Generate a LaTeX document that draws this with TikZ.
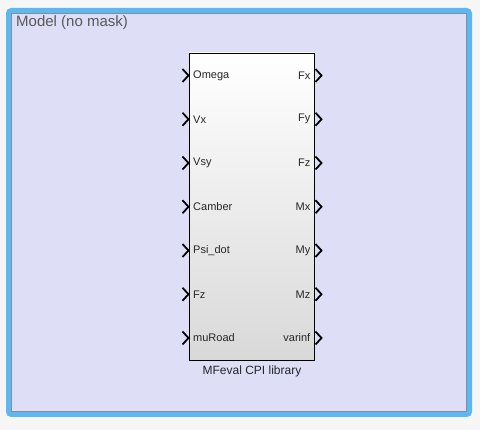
\documentclass[tikz,border=0pt]{standalone}
\usepackage{fontspec}
\setmainfont{Liberation Sans}
\begin{document}
\begin{tikzpicture}[x=1pt,y=-1pt,
  inport/.style={line width=1.8pt,line join=miter,black},
  plabel/.style={font=\fontsize{11}{13}\selectfont,inner sep=0pt,text=black!85},
  ]
\definecolor{bgc}{HTML}{F6F6F6}
\definecolor{frameblue}{HTML}{5DB8F2}
\definecolor{lav}{HTML}{DEDEF6}
\definecolor{innergray}{HTML}{8A8A9A}
\fill[bgc] (0,0) rectangle (480,430);
\useasboundingbox (0,0) rectangle (480,430);
\fill[frameblue,rounded corners=5pt] (6,8) rectangle (472,417);
\filldraw[fill=lav,draw=innergray,line width=1pt] (11.5,13.5) rectangle (466.5,411.5);
\node[anchor=north west,inner sep=0pt,font=\fontsize{15}{17}\selectfont,text=black!65] (title) at (16,15) {Model (no mask)};
\shade[top color=white,bottom color=black!15] (189.5,53) rectangle (314.5,360);
\draw[line width=0.9pt,black] (189.5,53) rectangle (314.5,360);
\coordinate (blk) at (252,206.5);
\node[font=\fontsize{12}{14}\selectfont,inner sep=0pt,text=black!85] (lbl) at (252,371) {MFeval CPI library};
\foreach \n [count=\i from 0] in {Omega,Vx,Vsy,Camber,Psi\_dot,Fz,muRoad}{
  \pgfmathsetmacro{\yy}{75.5+43.75*\i}
  \draw[inport] (182.5,\yy-6.5) -- (188.5,\yy) -- (182.5,\yy+6.5);
  \node[plabel,anchor=west] (in\i) at (193,\yy) {\n};
}
\foreach \n [count=\i from 0] in {Fx,Fy,Fz,Mx,My,Mz,varinf}{
  \pgfmathsetmacro{\yy}{75.5+43.75*\i}
  \draw[inport] (315.5,\yy-6.5) -- (321.5,\yy) -- (315.5,\yy+6.5);
  \node[plabel,anchor=east] (out\i) at (310.5,\yy) {\n};
}
\end{tikzpicture}
\end{document}
